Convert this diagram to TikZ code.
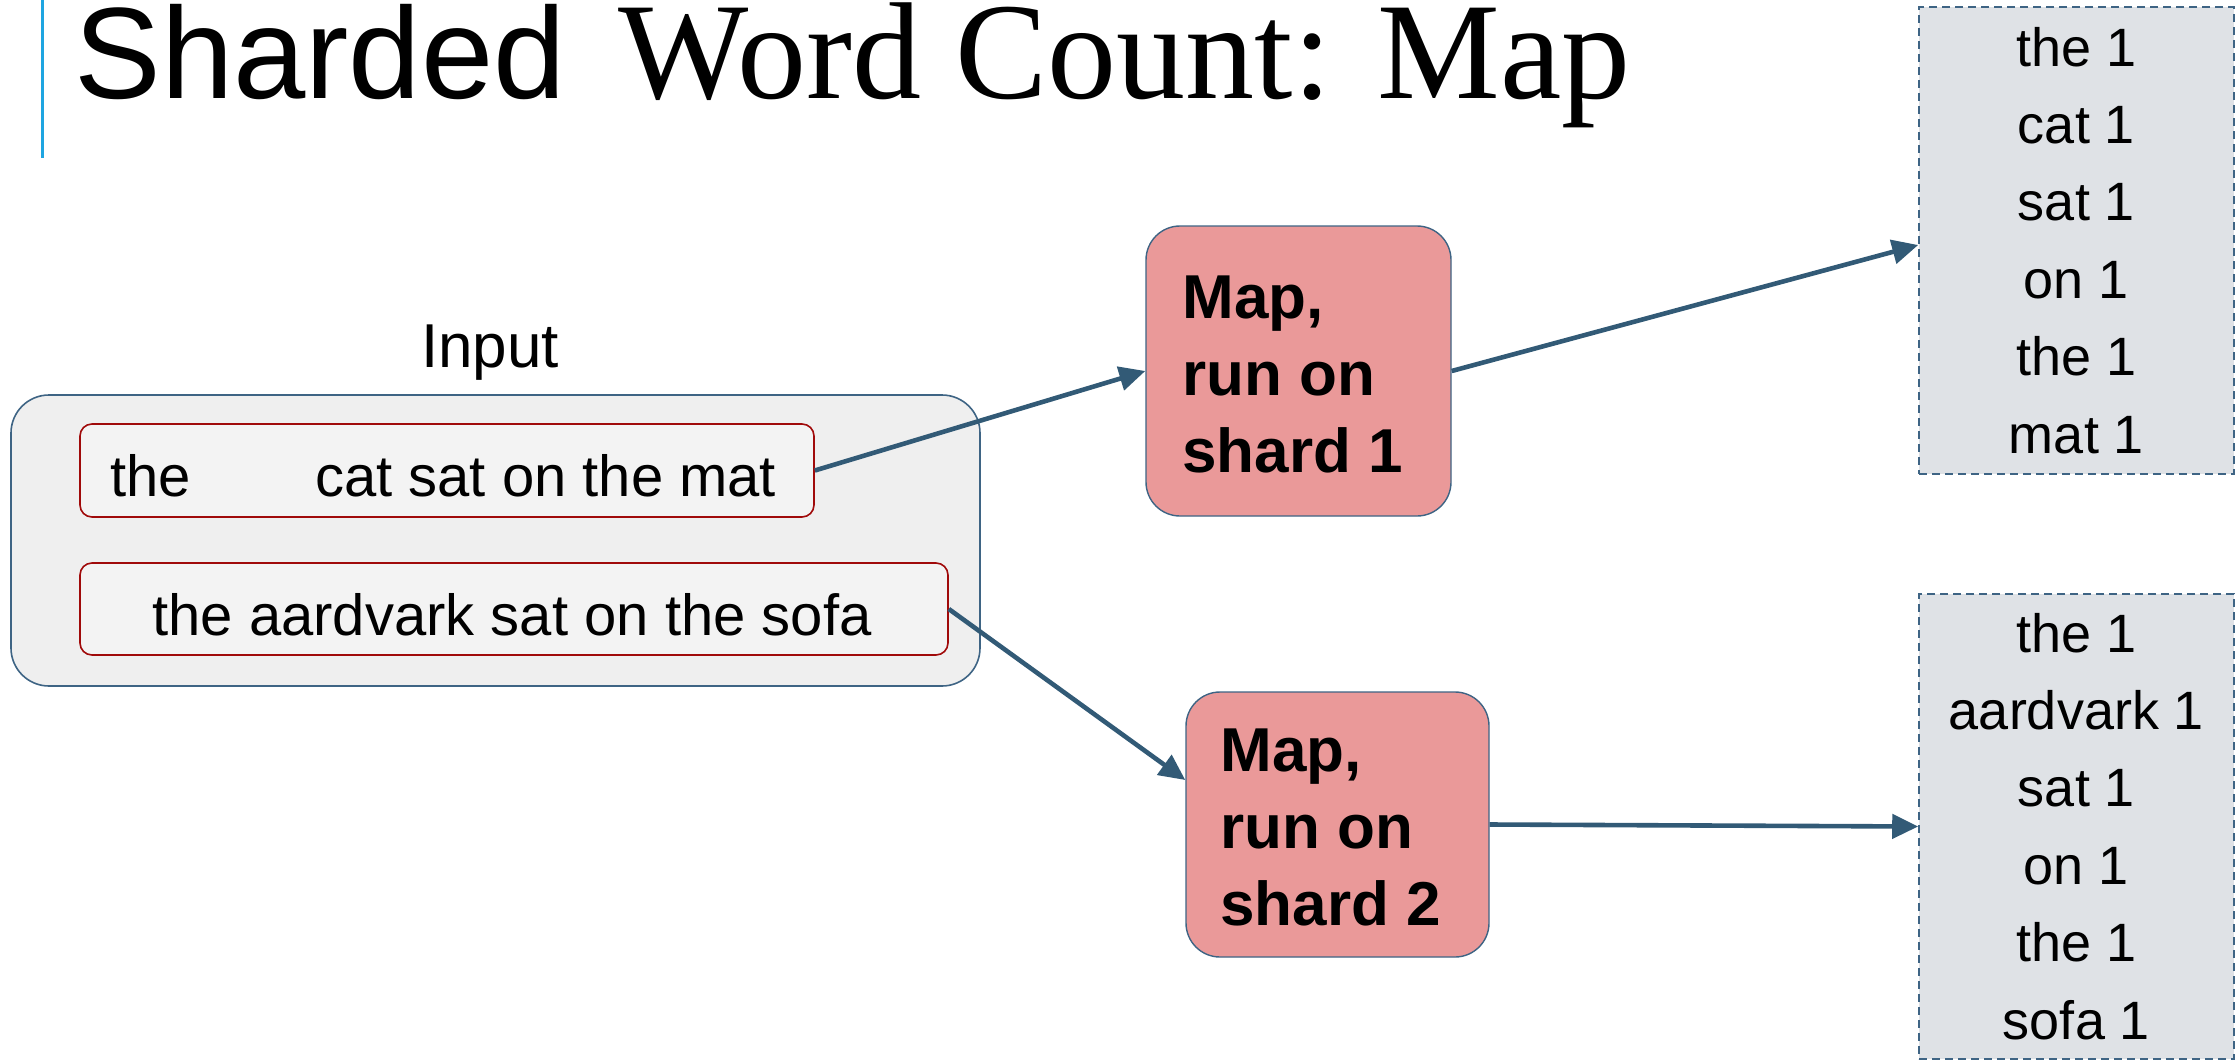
\documentclass[tikz,border=0pt]{standalone}
\usepackage{fontspec}
\setmainfont{Liberation Sans}
\newfontfamily\titleserif{Liberation Serif}
\usetikzlibrary{arrows.meta}
\definecolor{arrowc}{RGB}{50,90,118}
\definecolor{edgec}{RGB}{62,100,132}
\definecolor{mapfill}{RGB}{234,153,153}
\definecolor{outfill}{RGB}{223,226,230}
\definecolor{infill}{RGB}{239,239,239}
\definecolor{linefill}{RGB}{243,243,243}
\definecolor{lineedge}{RGB}{160,10,10}
\definecolor{barc}{RGB}{30,165,225}
\tikzset{
  inbox/.style={draw=edgec, line width=0.8pt, fill=infill, rounded corners=19pt, inner sep=0pt},
  linebox/.style={draw=lineedge, line width=0.8pt, fill=linefill, rounded corners=6pt, inner sep=0pt},
  mapbox/.style={draw=edgec, line width=0.7pt, fill=mapfill, rounded corners=17pt, inner sep=0pt},
  outbox/.style={draw=edgec, line width=0.8pt, dashed, dash pattern=on 4pt off 2.5pt, fill=outfill, inner sep=0pt},
  maptext/.style={anchor=base west, align=left, inner sep=0pt, font=\bfseries\fontsize{31}{38.5}\selectfont},
  outtext/.style={anchor=base, align=center, inner sep=0pt, font=\fontsize{27}{38.7}\selectfont},
  intext/.style={inner sep=0pt, font=\fontsize{29}{35}\selectfont},
  arr/.style={draw=arrowc, line width=2.3pt, -{Triangle[length=13pt,width=12pt]}},
}
\begin{document}
\begin{tikzpicture}[x=0.5pt,y=-0.5pt]
\useasboundingbox (0,0) rectangle (2239,1061);
% title
\coordinate (bartop) at (42,0);
\coordinate (barbot) at (42,158);
\draw[barc, line width=1.5pt] (bartop) -- (barbot);
\node[anchor=base west, inner sep=0pt, font=\fontsize{65}{78}\selectfont] (t1) at (74,98) {Sharded};
\node[anchor=base west, inner sep=0pt, font=\titleserif\fontsize{69}{80}\selectfont] (t2) at (618,98) {Word Count: Map};
% input
\node[anchor=base, inner sep=0pt, font=\fontsize{31}{37}\selectfont] (inlabel) at (490,367) {Input};
\node[inbox, minimum width=484.5pt, minimum height=145.5pt] (inbox) at (495.5,540.5) {};
\node[linebox, minimum width=367pt, minimum height=46.5pt] (in1) at (447,470.5) {};
\node[linebox, minimum width=434pt, minimum height=46pt] (in2) at (514,609) {};
\node[intext, anchor=base west] (in1t) at (110,496) {the\hspace{54pt} cat sat on the mat};
\node[intext, anchor=base] (in2t) at (512,635) {the aardvark sat on the sofa};
% map boxes
\node[mapbox, minimum width=152.5pt, minimum height=145pt] (map1) at (1298.5,371) {};
\node[maptext] (map1t) at (1182,472) {Map,\\run on\\shard 1};
\node[mapbox, minimum width=151.5pt, minimum height=132.5pt] (map2) at (1337.5,824.5) {};
\node[maptext] (map2t) at (1220,925) {Map,\\run on\\shard 2};
% outputs
\node[outbox, minimum width=157.5pt, minimum height=233.5pt] (out1) at (2076.5,240.5) {};
\node[outtext] (out1t) at (2076.5,453) {the 1\\cat 1\\sat 1\\on 1\\the 1\\mat 1};
\node[outbox, minimum width=157.5pt, minimum height=232.5pt] (out2) at (2076.5,826.5) {};
\node[outtext] (out2t) at (2076.5,1039) {the 1\\aardvark 1\\sat 1\\on 1\\the 1\\sofa 1};
% arrows
\draw[arr] (in1.east) -- (map1.west);
\draw[arr] (in2.east) -- ([yshift=22.25pt]map2.west);
\draw[arr] (map1.east) -- ([yshift=-2.25pt]out1.west);
\draw[arr] (map2.east) -- (out2.west);
\end{tikzpicture}
\end{document}
